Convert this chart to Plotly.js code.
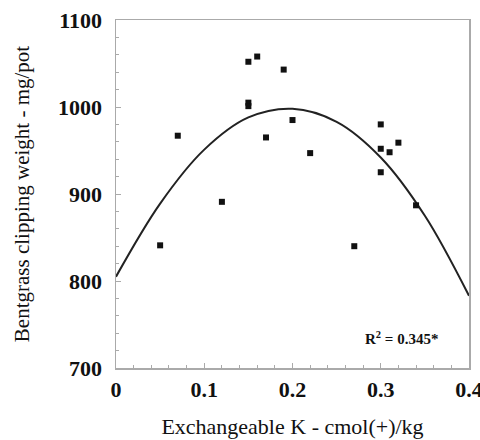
<!DOCTYPE html>
<html>
<head>
<meta charset="utf-8">
<script src="https://cdn.plot.ly/plotly-3.0.1.min.js"></script>
<style>
html,body{margin:0;padding:0;background:#fff;}
#chart{width:480px;height:440px;}
#chart text{font-family:'Liberation Serif','Times New Roman',Times,serif !important;}
</style>
</head>
<body>
<div id="chart"></div>
<script>
// Observed points: exchangeable K (cmol(+)/kg) and clipping weight (mg/pot)
var kValues = [0.05, 0.07, 0.12, 0.15, 0.15, 0.15, 0.16, 0.17, 0.19, 0.20, 0.22, 0.27, 0.30, 0.30, 0.30, 0.31, 0.32, 0.34];
var weights = [841, 967, 891, 1052, 1005, 1001, 1058, 965, 1043, 985, 947, 840, 980, 952, 925, 948, 959, 887];
// Fitted curve
var fitK = [0, 0.05, 0.10, 0.15, 0.20, 0.25, 0.30, 0.35, 0.40];
var fitW = [805, 889, 951, 988, 998, 983, 942, 875, 783];
var xTickVals = [0, 0.1, 0.2, 0.3, 0.4];
var xTickText = ['0', '0.1', '0.2', '0.3', '0.4'];
var yTickVals = [700, 800, 900, 1000, 1100];
var yTickText = ['700', '800', '900', '1000', '1100'];
var r2Text = 'R<sup>2</sup> = 0.345*';

var fam = 'Times New Roman';
function bold(s) { return '<b>' + s + '</b>'; }
var traces = [
  {x: fitK, y: fitW, mode: 'lines', line: {color: '#222', width: 2, shape: 'spline', smoothing: 1}, hoverinfo: 'skip', showlegend: false},
  {x: kValues, y: weights, mode: 'markers', marker: {symbol: 'square', size: 6, color: '#111'}, showlegend: false}
];
var axisCommon = {
  showgrid: false, zeroline: false, showline: true, mirror: true,
  linecolor: '#aaaaaa', linewidth: 1.5,
  ticks: 'inside', ticklen: 5, tickcolor: '#aaaaaa', tickwidth: 1,
  ticklabeloverflow: 'allow',
  tickfont: {family: fam, size: 22, color: '#111'}
};
var layout = {
  width: 480, height: 440,
  margin: {l: 116, r: 11, t: 20, b: 72},
  paper_bgcolor: '#fff', plot_bgcolor: '#fff',
  font: {family: fam, color: '#111'},
  xaxis: Object.assign({}, axisCommon, {
    range: [0, 0.4], tickvals: xTickVals, ticktext: xTickText.map(bold),
    minor: {dtick: 0.02, ticks: 'inside', ticklen: 3, tickcolor: '#aaaaaa'},
    ticklabelstandoff: 1,
    title: {text: 'Exchangeable K - cmol(+)/kg', font: {family: fam, size: 22, color: '#111'}, standoff: 17}
  }),
  yaxis: Object.assign({}, axisCommon, {
    range: [700, 1100], tickvals: yTickVals, ticktext: yTickText.map(bold),
    minor: {dtick: 20, ticks: 'inside', ticklen: 3, tickcolor: '#aaaaaa'},
    ticklabelstandoff: 8,
    title: {text: 'Bentgrass clipping weight - mg/pot', font: {family: fam, size: 21, color: '#111'}, standoff: 22}
  }),
  annotations: [{
    x: 0.323, y: 735, xref: 'x', yref: 'y', xanchor: 'center', yanchor: 'middle',
    text: bold(r2Text), showarrow: false,
    font: {family: fam, size: 15, color: '#111'}
  }]
};
Plotly.newPlot('chart', traces, layout, {displayModeBar: false, staticPlot: true});
</script>
</body>
</html>
